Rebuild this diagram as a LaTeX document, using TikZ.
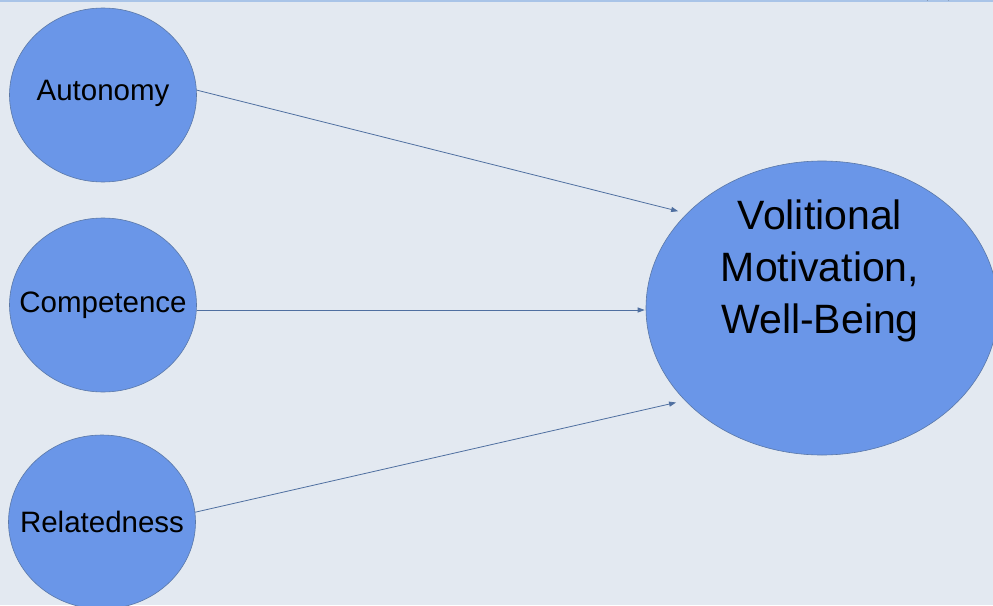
\documentclass[tikz,border=0pt]{standalone}
\usepackage{fontspec}
\setmainfont{Liberation Sans}
\usetikzlibrary{shapes.geometric,arrows.meta,calc}
\definecolor{bgc}{HTML}{E3E9F1}
\definecolor{bandc}{HTML}{A9C4E8}
\definecolor{circfill}{HTML}{6A96E8}
\definecolor{circline}{HTML}{5A78A8}
\definecolor{arrc}{HTML}{4F6FA0}
\tikzset{
  need/.style={ellipse, draw=circline, line width=0.6pt, fill=circfill, inner sep=0pt,
    minimum width=187pt, minimum height=174pt, font=\fontsize{29.5}{34}\selectfont, text=black},
  goal/.style={ellipse, draw=circline, line width=0.6pt, fill=circfill, inner sep=0pt,
    minimum width=352pt, minimum height=294pt},
  goaltext/.style={align=center, inner sep=0pt, font=\fontsize{41}{52}\selectfont, text=black},
  arr/.style={draw=arrc, line width=0.8pt, -{Triangle[length=7pt,width=5pt]}}
}
\begin{document}
\begin{tikzpicture}[x=1pt,y=-1pt]
\useasboundingbox (0,0) rectangle (993,605);
\fill[bgc] (0,0) rectangle (993,605);
\fill[bandc] (0,0) rectangle (993,2);
\draw[black!80, line width=1.5pt] (927,0) arc[start angle=180, end angle=360, x radius=11, y radius=3];
\node[need] (a) at (103,95) {\makebox[0pt]{\raisebox{10pt}{Autonomy}}};
\node[need] (c) at (103,305) {\makebox[0pt]{Competence}};
\node[need] (r) at (102,522) {\makebox[0pt]{Relatedness}};
\node[goal] (v) at (822,308) {};
\node[goaltext] (vt) at (820,271) {Volitional\\Motivation,\\Well-Being};
\draw[arr, shorten >=9pt] (a.3) -- (v.145.7);
\draw[arr, shorten >=1pt] ([yshift=-5pt]c.east) -- ([yshift=-5pt]c.east -| v.west);
\draw[arr, shorten >=9pt] (r.6) -- (v.214.2);
\end{tikzpicture}
\end{document}
